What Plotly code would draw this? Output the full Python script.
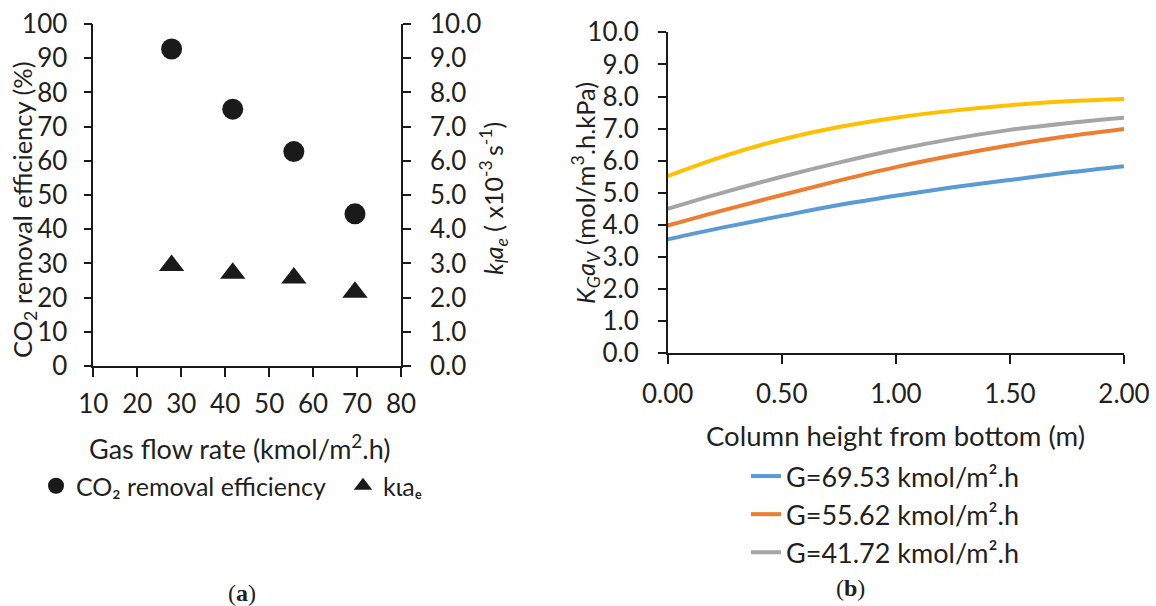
import plotly.graph_objects as go

W, H = 1156, 606

# ---------------- data (a) ----------------
gas_flow = [27.81, 41.72, 55.62, 69.53]
co2_eff = [92.7, 75.1, 62.7, 44.5]
kla_e = [2.94, 2.71, 2.57, 2.16]

# ---------------- data (b) ----------------
height = [0.0, 0.25, 0.5, 0.75, 1.0, 1.25, 1.5, 1.75, 2.0]
kga_6953 = [3.55, 3.93, 4.28, 4.62, 4.91, 5.17, 5.40, 5.63, 5.83]
kga_5562 = [3.98, 4.47, 4.93, 5.38, 5.80, 6.16, 6.48, 6.76, 6.99]
kga_4172 = [4.50, 5.02, 5.50, 5.94, 6.34, 6.68, 6.96, 7.17, 7.34]
kga_2781 = [5.52, 6.15, 6.66, 7.05, 7.34, 7.56, 7.73, 7.85, 7.92]

x_ticks_a = [10, 20, 30, 40, 50, 60, 70, 80]
y_ticks_a = list(range(0, 101, 10))
y2_ticks_a = [0, 1, 2, 3, 4, 5, 6, 7, 8, 9, 10]
x_ticks_b = [0.0, 0.5, 1.0, 1.5, 2.0]
y_ticks_b = [0, 1, 2, 3, 4, 5, 6, 7, 8, 9, 10]

FONT = "Lato"
INK = "#231f20"
AX = "#1a1a1a"


def px(x):
    return x / W


def py(y):
    return 1 - y / H


fig = go.Figure()

fig.add_trace(go.Scatter(
    x=gas_flow, y=co2_eff, mode="markers", name="CO₂ removal efficiency",
    marker=dict(symbol="circle", size=21, color="#1a1a1a"),
    xaxis="x", yaxis="y", legend="legend"))
fig.add_trace(go.Scatter(
    x=gas_flow, y=kla_e, mode="markers", name="kιaₑ",
    marker=dict(symbol="triangle-up", size=22, color="#1a1a1a"),
    xaxis="x", yaxis="y2", legend="legend"))

b_series = [
    ("G=69.53 kmol/m².h", kga_6953, "#5B9BD5", True),
    ("G=55.62 kmol/m².h", kga_5562, "#ED7D31", True),
    ("G=41.72 kmol/m².h", kga_4172, "#A5A5A5", True),
    ("G=27.81 kmol/m².h", kga_2781, "#FFC000", False),
]
for i, (name, vals, col, show) in enumerate(b_series):
    fig.add_trace(go.Scatter(
        x=height, y=vals, mode="lines", name=name,
        line=dict(color=col, width=4, shape="spline", smoothing=1.0),
        xaxis="x2", yaxis="y3", legend="legend2", showlegend=show,
        legendgroup="g%d" % i))

tickfont = dict(family=FONT, size=26, color=INK)
axcommon = dict(showgrid=False, zeroline=False, showline=True, linecolor=AX,
                linewidth=1.5, ticks="outside", tickcolor=AX, tickwidth=1.5,
                tickfont=tickfont, fixedrange=True, automargin=False)

fig.update_layout(
    width=W, height=H,
    margin=dict(l=0, r=0, t=0, b=0, autoexpand=False),
    paper_bgcolor="white", plot_bgcolor="white",
    font=dict(family=FONT, color=INK),
    xaxis=dict(domain=[px(93.3), px(401)], range=[10, 80], tickvals=x_ticks_a,
               ticklen=9, anchor="y", ticklabelstandoff=5, **axcommon),
    yaxis=dict(domain=[py(366), py(24)], range=[0, 100], tickvals=y_ticks_a,
               ticklen=8, anchor="x", ticklabelstandoff=11, **axcommon),
    yaxis2=dict(range=[0, 10], tickvals=y2_ticks_a, tickformat=".1f",
                overlaying="y", side="right", anchor="x", ticklen=8,
                ticklabelstandoff=14, **axcommon),
    xaxis2=dict(domain=[px(667.7), px(1124)], range=[0, 2], tickvals=x_ticks_b,
                tickformat=".2f", ticklen=9, anchor="y3", ticklabelstandoff=8,
                **axcommon),
    yaxis3=dict(domain=[py(353.3), py(32.3)], range=[0, 10], tickvals=y_ticks_b,
                tickformat=".1f", ticklen=8, anchor="x2", ticklabelstandoff=14,
                **axcommon),
    legend=dict(orientation="h", x=px(36), y=py(486), xanchor="left",
                yanchor="middle", font=dict(family=FONT, size=25, color=INK),
                bgcolor="rgba(0,0,0,0)", entrywidth=262, entrywidthmode="pixels",
                traceorder="normal"),
    legend2=dict(orientation="v", x=px(746), y=py(452), xanchor="left",
                 yanchor="top", font=dict(family=FONT, size=27, color=INK),
                 bgcolor="rgba(0,0,0,0)", tracegroupgap=3, traceorder="normal"),
    showlegend=True,
)

annots = [
    dict(text="CO<sub>2</sub> removal efficiency (%)", x=px(24), y=py(210),
         textangle=-90, size=25.5),
    dict(text="<i>k<sub>l</sub>a<sub>e</sub></i> ( x10<sup>-3 </sup>s<sup>-1</sup>)",
         x=px(494), y=py(199), textangle=-90, size=25),
    dict(text="Gas flow rate (kmol/m<sup>2</sup>.h)", x=px(240), y=py(447),
         textangle=0, size=27),
    dict(text="<i>K<sub>G</sub>a<sub>V</sub></i> (mol/m<sup>3</sup>.h.kPa)",
         x=px(585), y=py(193), textangle=-90, size=25.5),
    dict(text="Column height from bottom (m)", x=px(895), y=py(435),
         textangle=0, size=27.5),
]
for a in annots:
    fig.add_annotation(text=a["text"], x=a["x"], y=a["y"], xref="paper",
                       yref="paper", xanchor="center", yanchor="middle",
                       textangle=a["textangle"], showarrow=False,
                       font=dict(family=FONT, size=a["size"], color=INK))

for txt, x, y in [("(<b>a</b>)", 242, 593), ("(<b>b</b>)", 850, 588)]:
    fig.add_annotation(text=txt, x=px(x), y=py(y), xref="paper", yref="paper",
                       xanchor="center", yanchor="middle", showarrow=False,
                       font=dict(family="Liberation Serif", size=24, color=INK))

fig.write_html("out.html")
